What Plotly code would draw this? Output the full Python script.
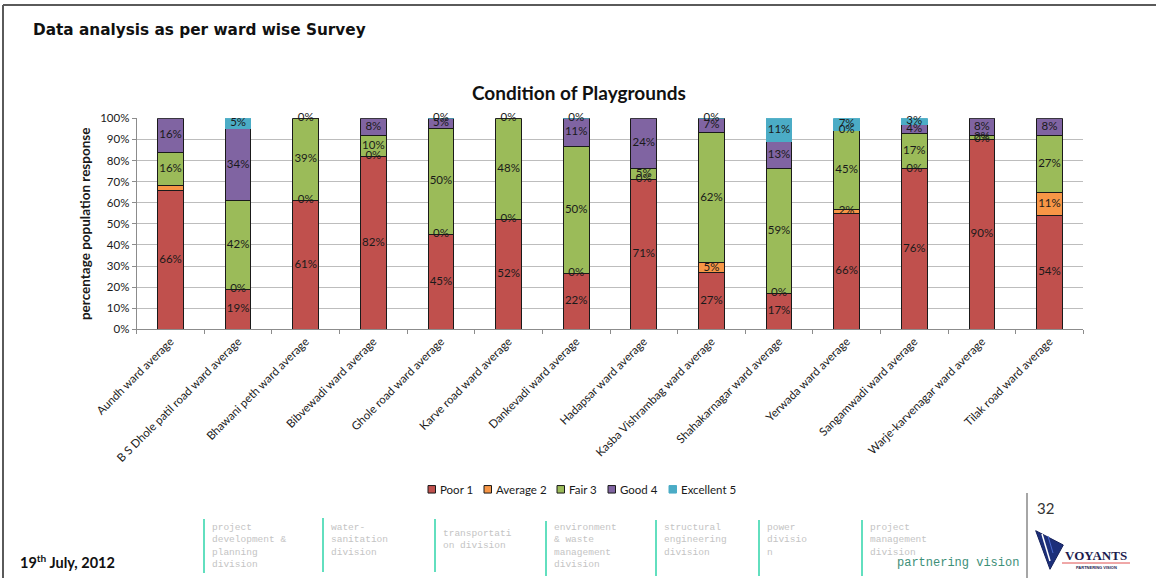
import numpy as np
import plotly.graph_objects as go

W, H = 1156, 578

wards = [
    "Aundh ward average", "B S Dhole patil road ward average", "Bhawani peth ward average",
    "Bibvewadi ward average", "Ghole road ward average", "Karve road ward average",
    "Dankevadi ward average", "Hadapsar ward average", "Kasba Vishrambag ward average",
    "Shahakarnagar ward average", "Yerwada ward average", "Sangamwadi ward average",
    "Warje-karvenagar ward average", "Tilak road ward average",
]

poor      = [66, 19, 61, 82, 45, 52, 22, 71, 27, 17, 66, 76, 90, 54]
average   = [2, 0, 0, 0, 0, 0, 0, 0, 5, 0, 2, 0, 0, 11]
fair      = [16, 42, 39, 10, 50, 48, 50, 5, 62, 59, 45, 17, 2, 27]
good      = [16, 34, 0, 8, 5, 0, 11, 24, 7, 13, 0, 4, 8, 8]
excellent = [None, 5, None, None, 0, None, 0, None, 0, 11, 7, 3, None, None]

series_names = ["Poor 1", "Average 2", "Fair 3", "Good 4", "Excellent 5"]
series_vals = [poor, average, fair, good, excellent]
series_colors = ["#C0504D", "#F79646", "#9BBB59", "#8064A2", "#4BACC6"]
series_edges = ["#1a1a1a", "#1a1a1a", "#1a1a1a", "#1a1a1a", "#4BACC6"]
# data labels left off the chart
hidden_labels = {("Average 2", 0)}

chart_font = "Lato"


def px(x):
    return x / W


def py(y):
    return 1 - y / H


fig = go.Figure()
for name, vals, col, edge in zip(series_names, series_vals, series_colors, series_edges):
    fig.add_trace(go.Bar(
        x=wards, y=vals, name=name, showlegend=False,
        marker=dict(color=col, line=dict(color=edge, width=1)),
        hoverinfo="x+y+name",
    ))

# data labels at the middle of each normalised segment
arr = np.array([[0 if v is None else v for v in s] for s in series_vals], dtype=float)
pct = arr / arr.sum(axis=0) * 100
mid = np.cumsum(pct, axis=0) - pct / 2
lx, ly, lt = [], [], []
for i, (name, vals) in enumerate(zip(series_names, series_vals)):
    for j, v in enumerate(vals):
        if v is None or (name, j) in hidden_labels:
            continue
        lx.append(wards[j])
        ly.append(mid[i, j])
        lt.append(f"{v}%")
fig.add_trace(go.Scatter(
    x=lx, y=ly, text=lt, mode="text", showlegend=False, hoverinfo="skip",
    textfont=dict(family=chart_font, size=11.5, color="#1a1a1a"), cliponaxis=False,
))

fig.update_layout(
    width=W, height=H, margin=dict(l=0, r=0, t=0, b=0, autoexpand=False),
    paper_bgcolor="white", plot_bgcolor="white",
    barmode="stack", barnorm="percent", bargap=0.62,
    font=dict(family=chart_font, size=11, color="#1a1a1a"),
    xaxis=dict(
        domain=[px(136.7), px(1083.3)], range=[-0.5, 13.5], automargin=False,
        tickangle=-45, tickson="boundaries", ticks="outside", ticklen=4,
        tickcolor="#8c8c8c", showline=True, linecolor="#8c8c8c", linewidth=1,
        showgrid=False, tickfont=dict(family=chart_font, size=11.5, color="#1a1a1a"),
    ),
    yaxis=dict(
        domain=[py(329.3), py(118.3)], range=[0, 100], dtick=10, ticksuffix="%",
        automargin=False,
        ticks="outside", ticklen=4, tickcolor="#8c8c8c",
        showline=True, linecolor="#8c8c8c", linewidth=1,
        gridcolor="#bdbdbd", gridwidth=1, zeroline=False,
        tickfont=dict(family=chart_font, size=11.5, color="#1a1a1a"),
        title=dict(text="<b>percentage population response</b>", standoff=6,
                   font=dict(family=chart_font, size=13.5, color="#1a1a1a")),
    ),
)

annotations = [
    dict(x=px(31), y=py(30), text="<b>Data analysis as per ward wise Survey</b>",
         xanchor="left", yanchor="middle",
         font=dict(family="DejaVu Sans", size=15.3, color="#111111")),
    dict(x=px(579), y=py(92), text="<b>Condition of Playgrounds</b>",
         xanchor="center", yanchor="middle",
         font=dict(family=chart_font, size=19, color="#111111")),
    dict(x=px(18), y=py(561), text="<b>19<sup>th</sup> July, 2012</b>",
         xanchor="left", yanchor="middle",
         font=dict(family="Lato", size=14.5, color="#111111")),
    dict(x=px(1035), y=py(508), text="32", xanchor="left", yanchor="middle",
         font=dict(family="Lato", size=15, color="#333333")),
    dict(x=px(1021), y=py(563), text="partnering vision", xanchor="right", yanchor="middle",
         font=dict(family="Liberation Mono", size=12, color="#3d8f78")),
    dict(x=px(1096), y=py(555), text="<b>VOYANTS</b>", xanchor="center", yanchor="middle",
         font=dict(family="Liberation Serif", size=13, color="#1c1c4e")),
    dict(x=px(1096), y=py(567.5), text="<b>PARTNERING VISION</b>", xanchor="center",
         yanchor="middle", font=dict(family="Liberation Sans", size=4, color="#1c1c4e")),
]

shapes = [
    dict(type="line", xref="paper", yref="paper", x0=px(3), x1=1, y0=py(5), y1=py(5),
         line=dict(color="#5a5a5a", width=2)),
    dict(type="line", xref="paper", yref="paper", x0=px(3), x1=px(3), y0=py(5), y1=0,
         line=dict(color="#5a5a5a", width=2)),
    dict(type="line", xref="paper", yref="paper", x0=px(1027), x1=px(1027), y0=py(493), y1=0,
         line=dict(color="#a6a6a6", width=2)),
    # logo mark
    dict(type="path", xref="paper", yref="paper",
         path=f"M {px(1035.7)} {py(530.7)} L {px(1063.3)} {py(545)} L {px(1050)} {py(569.3)} Z",
         fillcolor="#1c2f7a", line=dict(color="#14205a", width=1)),
    dict(type="line", xref="paper", yref="paper", x0=px(1042), y0=py(534), x1=px(1050), y1=py(561),
         line=dict(color="white", width=1.5)),
    dict(type="line", xref="paper", yref="paper", x0=px(1048), y0=py(536), x1=px(1053), y1=py(553),
         line=dict(color="#4a6ad0", width=1)),
    dict(type="line", xref="paper", yref="paper", x0=px(1062), x1=px(1130), y0=py(563), y1=py(563),
         line=dict(color="#e05050", width=1)),
]

# legend row: swatch left edges
legend_x = [428, 484, 557, 608, 669]
legend_y = 489.3
for lx0, name, col, edge in zip(legend_x, series_names, series_colors, series_edges):
    shapes.append(dict(type="rect", xref="paper", yref="paper",
                       x0=px(lx0), x1=px(lx0 + 7.5), y0=py(legend_y - 3.75), y1=py(legend_y + 3.75),
                       fillcolor=col, line=dict(color=edge, width=1)))
    annotations.append(dict(x=px(lx0 + 10), y=py(legend_y), text=name, xanchor="left",
                            yanchor="middle",
                            font=dict(family=chart_font, size=11.5, color="#1a1a1a")))

divisions = [
    (204, 519, 573, "project<br>development &amp;<br>planning<br>division", 520),
    (323, 518, 572, "water-<br>sanitation<br>division", 520),
    (435, 519, 572, "transportati<br>on division", 526),
    (546, 521, 576, "environment<br>&amp; waste<br>management<br>division", 520),
    (656, 520, 576, "structural<br>engineering<br>division", 520),
    (759, 520, 576, "power<br>divisio<br>n", 520),
    (862, 520, 576, "project<br>management<br>division", 520),
]
for lx0, ly0, ly1, txt, ty in divisions:
    shapes.append(dict(type="line", xref="paper", yref="paper", x0=px(lx0), x1=px(lx0),
                       y0=py(ly0), y1=py(ly1), line=dict(color="#62dfbf", width=2)))
    annotations.append(dict(x=px(lx0 + 6), y=py(ty), text=txt, xanchor="left", yanchor="top",
                            align="left",
                            font=dict(family="Liberation Mono", size=9.5, color="#c4c4c4")))

for a in annotations:
    a.setdefault("showarrow", False)
    a.setdefault("xref", "paper")
    a.setdefault("yref", "paper")

fig.update_layout(annotations=annotations, shapes=shapes)
fig.write_html("out.html")
